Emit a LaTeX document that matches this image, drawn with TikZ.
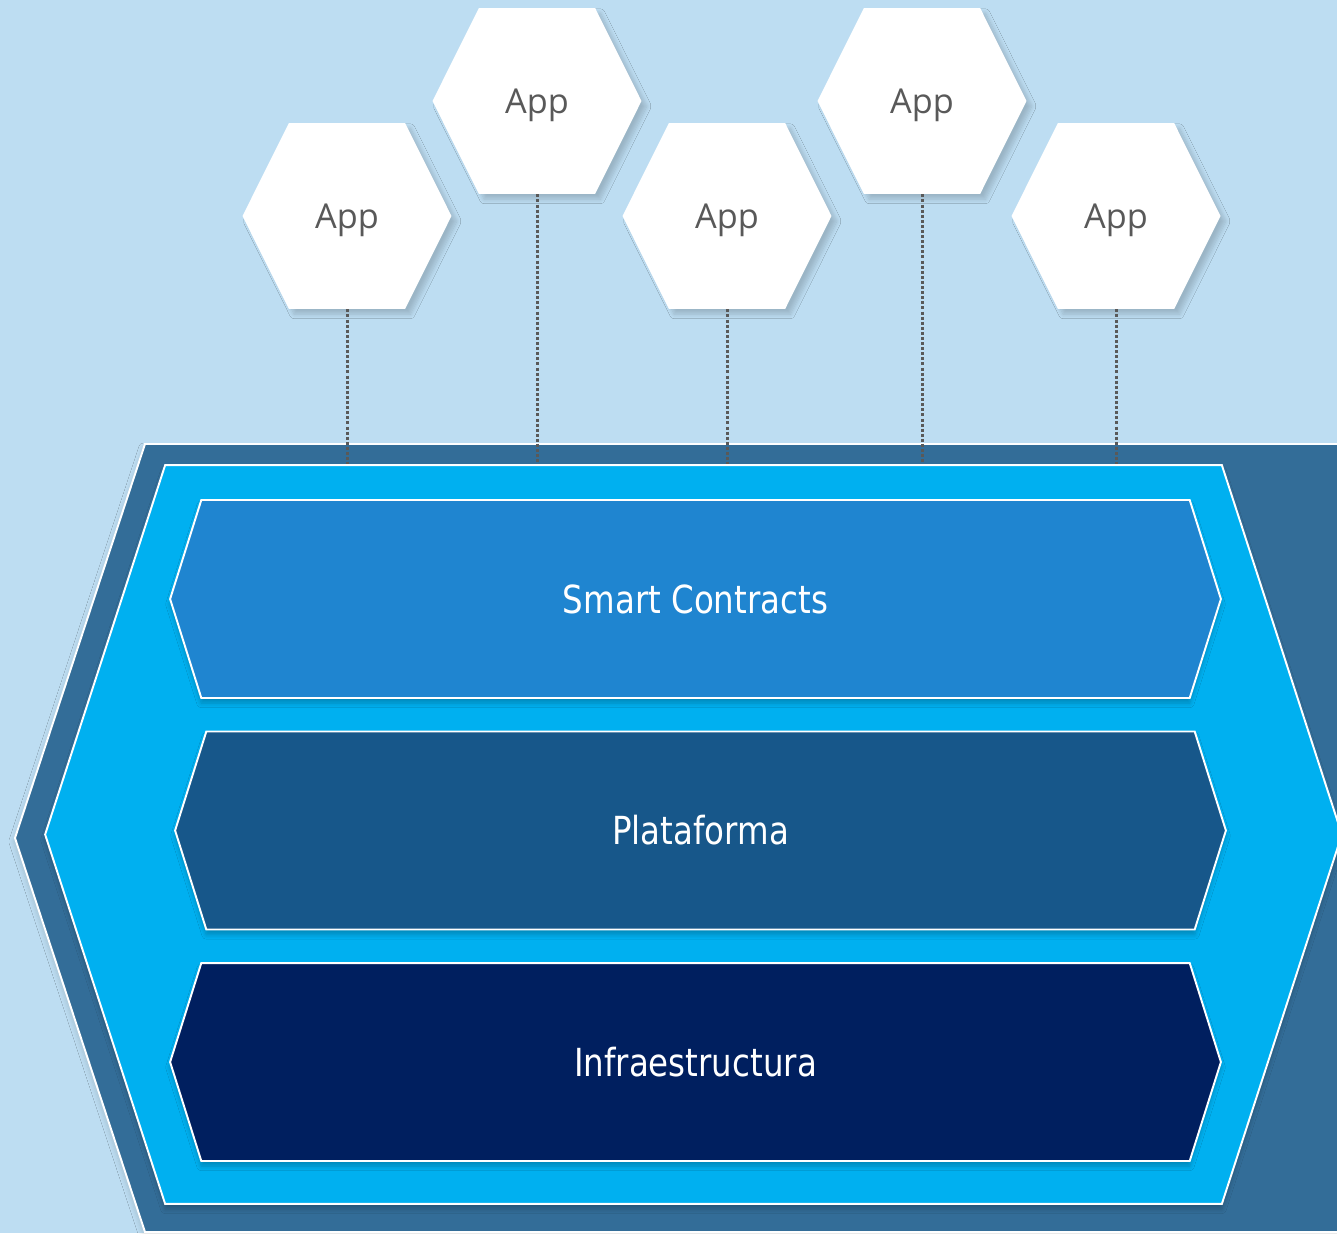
\documentclass[tikz,border=0pt]{standalone}
\usepackage{fontspec}
\usetikzlibrary{shapes.symbols,shadows.blur,positioning}
\newfontfamily\appfont{Open Sans}
\newfontfamily\layerfont[FakeStretch=0.84]{DejaVu Sans}
\definecolor{skybg}{HTML}{BDDDF2}
\definecolor{outerblue}{HTML}{336D98}
\definecolor{cyanblue}{HTML}{00B0F0}
\definecolor{contractblue}{HTML}{1F85D0}
\definecolor{platblue}{HTML}{17578A}
\definecolor{infrablue}{HTML}{001F5F}
\definecolor{appgray}{HTML}{595959}

\begin{document}
\begin{tikzpicture}
  [x=0.02cm,y=-0.02cm,
  hexa/.style={signal,signal to=west and east,inner sep=0pt},
  app/.style={hexa,signal pointer angle=127,fill=white,minimum width=4.18cm,minimum height=3.72cm,
    text=appgray,font=\appfont\fontsize{19.5}{22}\selectfont,text depth=0pt,
    blur shadow={shadow xshift=3pt,shadow yshift=-3pt,shadow opacity=18,shadow blur radius=2.5pt,shadow blur steps=8}},
  layer/.style={hexa,signal pointer angle=145,draw=white,line width=1.1pt,minimum width=21.02cm,minimum height=3.96cm,
    text=white,font=\layerfont\fontsize{22}{24}\selectfont,
    blur shadow={shadow xshift=0pt,shadow yshift=-3pt,shadow opacity=22,shadow blur radius=2.5pt,shadow blur steps=8}},
  link/.style={appgray,line width=1.7pt,dash pattern=on 1.7pt off 1.2pt}]
  \useasboundingbox (0,0) rectangle (1337,1233);
  \clip (0,0) rectangle (1337,1233);
  \fill[skybg] (0,0) rectangle (1337,1233);

  % platform block
  \draw[white,line width=1.1pt,fill=outerblue,blur shadow={shadow xshift=-1pt,shadow yshift=-2pt,shadow opacity=12,shadow blur radius=2.5pt,shadow blur steps=8}]
    (1400,444) -- (145,444) -- (15,838) -- (145,1232) -- (1400,1232);
  \node[hexa,signal pointer angle=144,fill=cyanblue,draw=white,line width=1.1pt,minimum width=25.94cm,minimum height=14.78cm,
    blur shadow={shadow xshift=0pt,shadow yshift=-3pt,shadow opacity=22,shadow blur radius=2.5pt,shadow blur steps=8}] (stack) at (693.5,834.5) {};

  \node[layer,fill=contractblue] (contracts) at (695.5,599) {Smart Contracts};
  \node[layer,fill=platblue] (plataforma) at (700.5,830.5) {Plataforma};
  \node[layer,fill=infrablue] (infra) at (695.5,1062) {Infraestructura};

  % apps
  \node[app] (app1) at (347,216) {App};
  \node[app] (app2) at (537,101) {App};
  \node[app] (app3) at (727,216) {App};
  \node[app] (app4) at (922,101) {App};
  \node[app] (app5) at (1116,216) {App};

  \foreach \a in {app1,app2,app3,app4,app5}
    \draw[link] (\a.south) -- (\a.south |- stack.north);
\end{tikzpicture}
\end{document}
